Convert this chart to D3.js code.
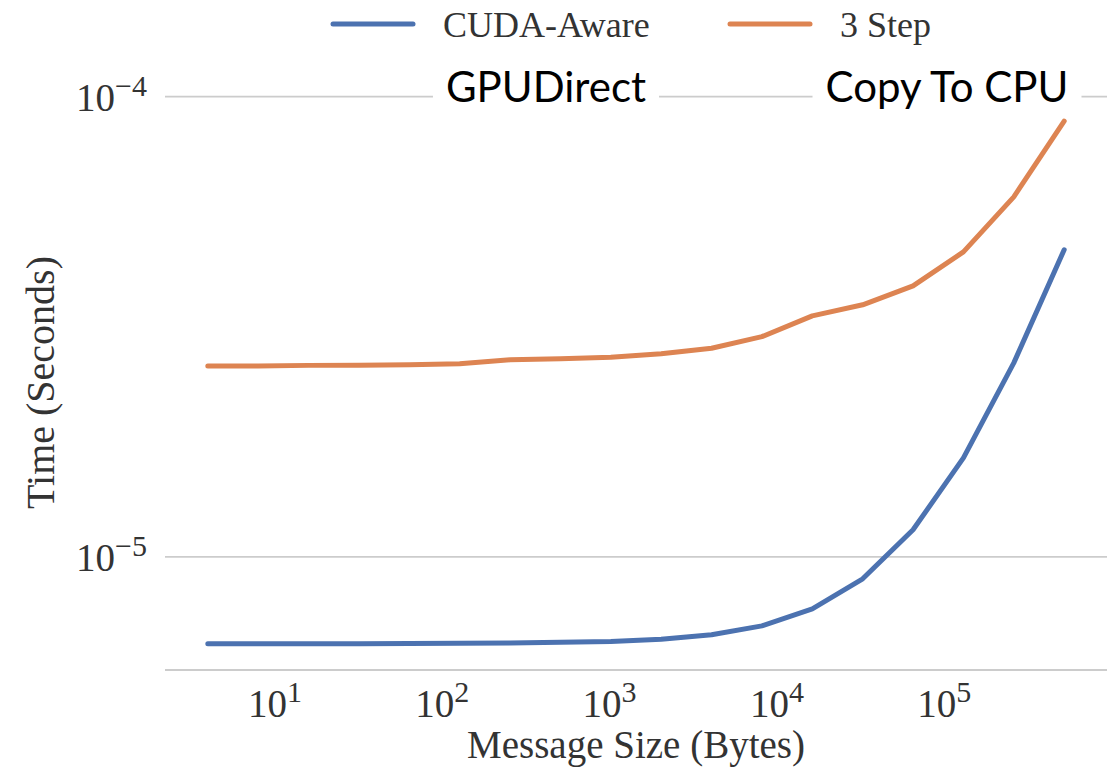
<!DOCTYPE html>
<html>
<head>
<meta charset="utf-8">
<script src="https://cdn.jsdelivr.net/npm/d3@7.9.0/dist/d3.min.js"></script>
<style>
  body { margin: 0; background: #fff; }
  svg { display: block; }
  .serif { font-family: "Liberation Serif", "DejaVu Serif", serif; fill: #333; }
</style>
</head>
<body>
<svg id="chart" width="1120" height="774"></svg>
<script>
// Message sizes (bytes), powers of two 2^2 .. 2^19
const sizes = [4, 8, 16, 32, 64, 128, 256, 512, 1024, 2048, 4096, 8192,
  16384, 32768, 65536, 131072, 262144, 524288];

// Time in seconds
const cudaAware = [6.47e-6, 6.47e-6, 6.47e-6, 6.47e-6, 6.48e-6, 6.49e-6, 6.50e-6, 6.52e-6,
  6.55e-6, 6.62e-6, 6.77e-6, 7.08e-6, 7.71e-6, 8.96e-6, 1.145e-5, 1.641e-5, 2.64e-5, 4.65e-5];
const threeStep = [2.60e-5, 2.60e-5, 2.607e-5, 2.61e-5, 2.615e-5, 2.627e-5, 2.68e-5, 2.694e-5,
  2.715e-5, 2.763e-5, 2.84e-5, 3.01e-5, 3.34e-5, 3.53e-5, 3.88e-5, 4.60e-5, 6.06e-5, 8.85e-5];

const seriesNames = ['CUDA-Aware', '3 Step'];
const seriesColors = ['#4c72b0', '#dd8452'];
const xTicks = [10, 100, 1000, 10000, 100000];
const yTicks = [1e-5, 1e-4];
const annotations = ['GPUDirect', 'Copy To CPU'];

const svg = d3.select('#chart');
const plot = { left: 165, right: 1107, top: 95, bottom: 670 };

// log padding of 5% on each side, like matplotlib's default margins
function padLog([lo, hi]) {
  const a = Math.log10(lo), b = Math.log10(hi), p = (b - a) * 0.05;
  return [Math.pow(10, a - p), Math.pow(10, b + p)];
}

const x = d3.scaleLog()
  .domain(padLog(d3.extent(sizes)))
  .range([plot.left, plot.right]);
const y = d3.scaleLog()
  .domain(padLog(d3.extent(cudaAware.concat(threeStep))))
  .range([plot.bottom, plot.top]);

// Horizontal grid lines
svg.append('g')
  .selectAll('line')
  .data(yTicks)
  .join('line')
  .attr('x1', plot.left).attr('x2', plot.right)
  .attr('y1', d => y(d)).attr('y2', d => y(d))
  .attr('stroke', '#cccccc').attr('stroke-width', 1.8);

// Bottom spine
svg.append('line')
  .attr('x1', plot.left).attr('x2', plot.right)
  .attr('y1', plot.bottom).attr('y2', plot.bottom)
  .attr('stroke', '#cccccc').attr('stroke-width', 1.8);

// power-of-ten label: "10" with a raised exponent
function powerLabel(sel, exp) {
  sel.text(null);
  sel.append('tspan').text('10');
  sel.append('tspan').attr('dy', -15).attr('font-size', 30)
    .text(exp < 0 ? '\u2212' + Math.abs(exp) : exp);
}

// X axis
const xAxis = svg.append('g')
  .attr('transform', `translate(0,${plot.bottom})`)
  .call(d3.axisBottom(x).tickValues(xTicks).tickSize(0).tickFormat(() => ''));
xAxis.select('.domain').remove();
xAxis.selectAll('.tick text')
  .attr('class', 'serif')
  .attr('y', 47).attr('dy', 0)
  .attr('font-size', 39)
  .each(function(d) { powerLabel(d3.select(this), Math.round(Math.log10(d))); });

// Y axis
const yAxis = svg.append('g')
  .attr('transform', `translate(${plot.left},0)`)
  .call(d3.axisLeft(y).tickValues(yTicks).tickSize(0).tickFormat(() => ''));
yAxis.select('.domain').remove();
yAxis.selectAll('.tick text')
  .attr('class', 'serif')
  .attr('x', -18).attr('y', 14).attr('dy', 0)
  .attr('font-size', 39)
  .each(function(d) { powerLabel(d3.select(this), Math.round(Math.log10(d))); });

// Axis titles
svg.append('text')
  .attr('class', 'serif')
  .attr('x', (plot.left + plot.right) / 2).attr('y', 758)
  .attr('text-anchor', 'middle').attr('font-size', 39)
  .text('Message Size (Bytes)');
svg.append('text')
  .attr('class', 'serif')
  .attr('transform', `translate(54,${(plot.top + plot.bottom) / 2}) rotate(-90)`)
  .attr('text-anchor', 'middle').attr('font-size', 40)
  .text('Time (Seconds)');

// Lines
const line = d3.line()
  .x((d, i) => x(sizes[i]))
  .y(d => y(d));

[cudaAware, threeStep].forEach((values, i) => {
  svg.append('path')
    .datum(values)
    .attr('d', line)
    .attr('fill', 'none')
    .attr('stroke', seriesColors[i])
    .attr('stroke-width', 5)
    .attr('stroke-linejoin', 'round')
    .attr('stroke-linecap', 'round');
});

// Annotations on the 10^-4 grid line, with white boxes behind
const annoX = [546, 947];
annotations.forEach((label, i) => {
  const g = svg.append('g');
  const t = g.append('text')
    .attr('x', annoX[i]).attr('y', 102)
    .attr('text-anchor', 'middle')
    .attr('font-family', 'Lato, "Open Sans", sans-serif')
    .attr('font-size', 42)
    .attr('fill', '#000')
    .text(label);
  const bb = t.node().getBBox();
  g.insert('rect', 'text')
    .attr('x', bb.x - 13).attr('width', bb.width + 26)
    .attr('y', 62).attr('height', 54)
    .attr('fill', '#fff');
});

// Legend
const legendX = [333, 730];
seriesNames.forEach((name, i) => {
  svg.append('line')
    .attr('x1', legendX[i]).attr('x2', legendX[i] + 80)
    .attr('y1', 24).attr('y2', 24)
    .attr('stroke', seriesColors[i])
    .attr('stroke-width', 5)
    .attr('stroke-linecap', 'round');
  svg.append('text')
    .attr('class', 'serif')
    .attr('x', legendX[i] + 110).attr('y', 37)
    .attr('font-size', 36)
    .text(name);
});
</script>
</body>
</html>
